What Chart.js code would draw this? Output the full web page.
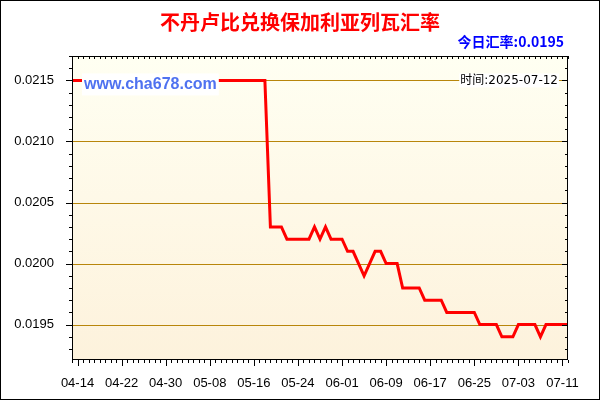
<!DOCTYPE html>
<html>
<head>
<meta charset="utf-8">
<script src="https://cdn.jsdelivr.net/npm/chart.js@4"></script>
<style>
  body { margin: 0; }
  #wrap { width: 600px; height: 400px; }
</style>
</head>
<body>
<div id="wrap"><canvas id="c"></canvas></div>
<script>
// daily labels 04-13 .. 07-12
const dates = [];
for (let d = new Date(2025, 3, 13); d <= new Date(2025, 6, 12); d.setDate(d.getDate() + 1)) {
    dates.push(String(d.getMonth() + 1).padStart(2, "0") + "-" + String(d.getDate()).padStart(2, "0"));
}

const rates = [
    0.0215, 0.0215, 0.0215, 0.0215, 0.0215, 0.0215, 0.0215, 0.0215, 0.0215, 0.0215,
    0.0215, 0.0215, 0.0215, 0.0215, 0.0215, 0.0215, 0.0215, 0.0215, 0.0215, 0.0215,
    0.0215, 0.0215, 0.0215, 0.0215, 0.0215, 0.0215, 0.0215, 0.0215, 0.0215, 0.0215,
    0.0215, 0.0215, 0.0215, 0.0215, 0.0215, 0.0215,
    0.0203, 0.0203, 0.0203,
    0.0202, 0.0202, 0.0202, 0.0202, 0.0202,
    0.0203, 0.0202, 0.0203,
    0.0202, 0.0202, 0.0202,
    0.0201, 0.0201, 0.0200, 0.0199, 0.0200, 0.0201, 0.0201, 0.0200, 0.0200, 0.0200,
    0.0198, 0.0198, 0.0198, 0.0198,
    0.0197, 0.0197, 0.0197, 0.0197,
    0.0196, 0.0196, 0.0196, 0.0196, 0.0196, 0.0196,
    0.0195, 0.0195, 0.0195, 0.0195,
    0.0194, 0.0194, 0.0194,
    0.0195, 0.0195, 0.0195, 0.0195,
    0.0194,
    0.0195, 0.0195, 0.0195, 0.0195, 0.0195
];

const yTicks = [0.0195, 0.0200, 0.0205, 0.0210, 0.0215];
const title = "不丹卢比兑换保加利亚列瓦汇率";
const todayText = "今日汇率:0.0195";
const timeText = "时间:2025-07-12";
const watermark = "www.cha678.com";

const decor = {
    id: "decor",
    beforeDatasetsDraw(chart) {
        const { ctx, chartArea: a, scales: { y } } = chart;
        ctx.save();
        const g = ctx.createLinearGradient(0, a.top, 0, a.bottom);
        g.addColorStop(0, "#fffff2");
        g.addColorStop(1, "#fdf2dc");
        ctx.fillStyle = g;
        ctx.fillRect(a.left, a.top, a.right - a.left, a.bottom - a.top);
        ctx.strokeStyle = "#b8860b";
        ctx.lineWidth = 1;
        yTicks.forEach(v => {
            const py = Math.round(y.getPixelForValue(v)) + 0.5;
            ctx.beginPath(); ctx.moveTo(a.left, py); ctx.lineTo(a.right, py); ctx.stroke();
        });
        ctx.restore();
    },
    afterDatasetsDraw(chart) {
        const { ctx, chartArea: a, scales: { x, y } } = chart;
        ctx.save();
        // watermark and time
        ctx.font = "bold 16px Arial, 'Liberation Sans'";
        ctx.textBaseline = "middle";
        const wy = y.getPixelForValue(0.0215) + 4;
        let w = ctx.measureText(watermark).width;
        ctx.fillStyle = "#fff";
        ctx.fillRect(a.left + 10, wy - 11, w + 4, 22);
        ctx.fillStyle = "#4f72f0";
        ctx.fillText(watermark, a.left + 12, wy);
        ctx.font = "12px 'DejaVu Sans', 'Noto Sans CJK SC'";
        w = ctx.measureText(timeText).width;
        const ty = y.getPixelForValue(0.0215);
        ctx.fillStyle = "#fff";
        ctx.fillRect(a.right - 11 - w, ty - 7, w + 2, 14);
        ctx.fillStyle = "#000";
        ctx.fillText(timeText, a.right - 10 - w, ty);
        // frame
        ctx.strokeStyle = "#000";
        ctx.lineWidth = 1;
        ctx.strokeRect(a.left + 0.5, a.top + 0.5, a.right - a.left - 1, a.bottom - a.top - 1);
        // y ticks
        for (let k = 0; k <= 25; k++) {
            const v = 0.0192 + k * 0.0001;
            const py = Math.round(y.getPixelForValue(v)) + 0.5;
            if (py < a.top || py > a.bottom) continue;
            const major = yTicks.some(t => Math.abs(t - v) < 1e-9);
            const len = major ? 6 : 3;
            ctx.beginPath();
            ctx.moveTo(a.left, py); ctx.lineTo(a.left - len, py);
            ctx.moveTo(a.right, py); ctx.lineTo(a.right - len, py);
            ctx.stroke();
        }
        // x ticks
        dates.forEach((d, i) => {
            const px = Math.round(x.getPixelForValue(i)) + 0.5;
            const len = (i - 1) % 8 === 0 ? 6 : 3;
            ctx.beginPath();
            ctx.moveTo(px, a.bottom); ctx.lineTo(px, a.bottom + len);
            ctx.moveTo(px, a.top); ctx.lineTo(px, a.top + 3);
            ctx.stroke();
        });
        ctx.restore();
    },
    afterDraw(chart) {
        const { ctx, width, height } = chart;
        ctx.save();
        ctx.textAlign = "center";
        ctx.textBaseline = "middle";
        ctx.fillStyle = "#ff0000";
        ctx.font = "bold 20px 'Noto Sans CJK SC'";
        ctx.fillText(title, 300, 22);
        ctx.textAlign = "right";
        ctx.fillStyle = "#0000ff";
        ctx.font = "bold 14px 'Noto Sans CJK SC'";
        ctx.fillText(todayText, 564, 42);
        ctx.strokeStyle = "#000";
        ctx.lineWidth = 1;
        ctx.strokeRect(0.5, 0.5, width - 1, height - 1);
        ctx.restore();
    }
};

new Chart(document.getElementById("c"), {
    type: "line",
    data: {
        labels: dates,
        datasets: [{
            data: rates,
            borderColor: "#ff0000",
            borderWidth: 3,
            pointRadius: 0,
            tension: 0
        }]
    },
    options: {
        responsive: true,
        maintainAspectRatio: false,
        animation: false,
        layout: { padding: { top: 56, right: 32, left: 0, bottom: 0 } },
        plugins: { legend: { display: false }, tooltip: { enabled: false } },
        scales: {
            x: {
                offset: false,
                grid: { display: false },
                border: { display: false },
                afterFit: s => { s.height = 40; },
                ticks: {
                    autoSkip: false,
                    maxRotation: 0,
                    padding: 8,
                    color: "#000",
                    font: { size: 13, family: "Arial, 'Liberation Sans'" },
                    callback: (v, i) => (i - 1) % 8 === 0 ? dates[i] : ""
                }
            },
            y: {
                min: 0.01921,
                max: 0.02170,
                grid: { display: false },
                border: { display: false },
                afterFit: s => { s.width = 72; },
                afterBuildTicks: s => { s.ticks = yTicks.map(v => ({ value: v })); },
                ticks: {
                    padding: 10,
                    color: "#000",
                    font: { size: 13, family: "Arial, 'Liberation Sans'" },
                    callback: v => v.toFixed(4)
                }
            }
        }
    },
    plugins: [decor]
});
</script>
</body>
</html>
